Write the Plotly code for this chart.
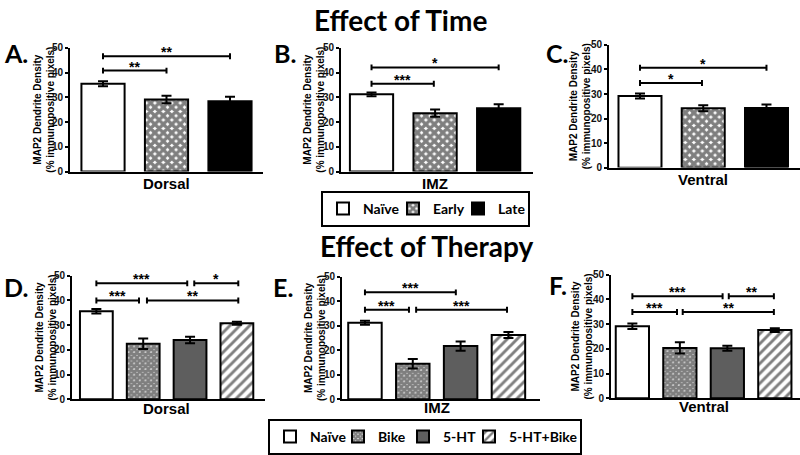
import plotly.graph_objects as go

W, H = 800, 455

# ---------------- data ----------------
time_groups = ["Naïve", "Early", "Late"]
therapy_groups = ["Naïve", "Bike", "5-HT", "5-HT+Bike"]
region_labels = ["Dorsal", "IMZ", "Ventral"]
y_ticks = [0, 10, 20, 30, 40, 50]

time_dorsal_mean = [35.5, 29.1, 28.4]
time_dorsal_sem = [1.0, 1.5, 1.8]
time_imz_mean = [31.2, 23.6, 25.6]
time_imz_sem = [0.8, 1.5, 1.6]
time_ventral_mean = [29.2, 24.2, 24.3]
time_ventral_sem = [1.0, 1.2, 1.4]

therapy_dorsal_mean = [35.6, 22.5, 24.0, 30.8]
therapy_dorsal_sem = [0.9, 2.1, 1.3, 0.6]
therapy_imz_mean = [31.2, 14.5, 21.7, 26.2]
therapy_imz_sem = [0.8, 1.9, 1.9, 1.2]
therapy_ventral_mean = [29.2, 20.4, 20.3, 27.6]
therapy_ventral_sem = [1.1, 2.3, 1.0, 0.8]

# significance brackets: (from group, to group, height, label)
sig_a = [(0, 1, 40.8, "**"), (0, 2, 46.6, "**")]
sig_b = [(0, 0.98, 35.5, "***"), (0, 2, 42.1, "*")]
sig_c = [(0, 0.98, 34.5, "*"), (0, 2, 40.7, "*")]
sig_d = [(0, 0.91, 40.0, "***"), (1.08, 3.03, 40.0, "**"),
         (0, 1.94, 46.9, "***"), (2.09, 3.03, 46.9, "*")]
sig_e = [(0, 0.92, 36.5, "***"), (1.07, 2.97, 36.5, "***"),
         (0, 1.9, 43.6, "***")]
sig_f = [(0, 0.94, 34.9, "***"), (1.06, 2.98, 34.9, "**"),
         (0, 1.9, 41.3, "***"), (2.03, 2.98, 41.3, "**")]

# legend entry widths (px) to space the legend items like the original
time_legend_w = [25, 20, 25]
therapy_legend_w = [23, 20, 21, 66]

# ---------------- styles ----------------
ARIAL = "Liberation Sans, Arial, sans-serif"
CAL = "Lato, Open Sans, sans-serif"

time_styles = [
    dict(color="white"),
    dict(color="white", pattern=dict(shape="x", fgcolor="black", bgcolor="white", size=6, solidity=0.8)),
    dict(color="black"),
]
therapy_styles = [
    dict(color="white"),
    dict(color="white", pattern=dict(shape="x", fgcolor="black", bgcolor="white", size=4, solidity=0.9)),
    dict(color="#5e5e5e"),
    dict(color="white", pattern=dict(shape="/", fgcolor="black", bgcolor="white", size=7, solidity=0.42)),
]

panels = [
    dict(letter="A.", means=time_dorsal_mean, sems=time_dorsal_sem, groups=time_groups, styles=time_styles,
         region=region_labels[0], sig=sig_a, xpx=(70, 263), xr=(-0.52, 2.52), ypx=(170, 43),
         tx=44, lxy=(2, 31), lab_y=182, legend="legend", lw=time_legend_w, bw=0.68),
    dict(letter="B.", means=time_imz_mean, sems=time_imz_sem, groups=time_groups, styles=time_styles,
         region=region_labels[1], sig=sig_b, xpx=(341, 533), xr=(-0.48, 2.54), ypx=(170, 43),
         tx=314, lxy=(272, 31), lab_y=182, legend=None, lw=None, bw=0.68),
    dict(letter="C.", means=time_ventral_mean, sems=time_ventral_sem, groups=time_groups, styles=time_styles,
         region=region_labels[2], sig=sig_c, xpx=(609, 800), xr=(-0.49, 2.53), ypx=(166, 40),
         tx=580, lxy=(544, 31), lab_y=178, legend=None, lw=None, bw=0.68),
    dict(letter="D.", means=therapy_dorsal_mean, sems=therapy_dorsal_sem, groups=therapy_groups, styles=therapy_styles,
         region=region_labels[0], sig=sig_d, xpx=(72, 265), xr=(-0.52, 3.6), ypx=(404, 277),
         tx=46, lxy=(2, 271), lab_y=413, legend="legend2", lw=therapy_legend_w, bw=0.70),
    dict(letter="E.", means=therapy_imz_mean, sems=therapy_imz_sem, groups=therapy_groups, styles=therapy_styles,
         region=region_labels[1], sig=sig_e, xpx=(342, 540), xr=(-0.48, 3.66), ypx=(404, 278),
         tx=315, lxy=(271, 271), lab_y=412, legend=None, lw=None, bw=0.70),
    dict(letter="F.", means=therapy_ventral_mean, sems=therapy_ventral_sem, groups=therapy_groups, styles=therapy_styles,
         region=region_labels[2], sig=sig_f, xpx=(611, 800), xr=(-0.45, 3.53), ypx=(403, 276),
         tx=582, lxy=(547, 269), lab_y=411, legend=None, lw=None, bw=0.70),
]

fig = go.Figure()
layout = dict(
    width=W, height=H, autosize=False,
    margin=dict(l=0, r=0, t=0, b=0),
    paper_bgcolor="white", plot_bgcolor="white",
    barmode="overlay", showlegend=True,
    font=dict(family=ARIAL, color="black"),
)
annotations = []
shapes = []

for i, p in enumerate(panels, start=1):
    sfx = "" if i == 1 else str(i)
    xa, ya = "x" + sfx, "y" + sfx
    for j, (g, m, s, st) in enumerate(zip(p["groups"], p["means"], p["sems"], p["styles"])):
        marker = dict(color=st["color"], line=dict(color="black", width=2))
        if "pattern" in st:
            marker["pattern"] = st["pattern"]
        tr = dict(
            x=[j], y=[m], width=p["bw"], name=g, marker=marker,
            error_y=dict(type="data", array=[s], color="black", thickness=2, width=5),
            xaxis=xa, yaxis=ya, hoverinfo="skip",
            showlegend=p["legend"] is not None,
        )
        if p["legend"] is not None:
            tr["legend"] = p["legend"]
            tr["legendwidth"] = p["lw"][j]
        fig.add_trace(go.Bar(**tr))

    x0p, x1p = p["xpx"]
    y0p, y1p = p["ypx"]
    layout["xaxis" + sfx] = dict(
        domain=[x0p / W, x1p / W], range=list(p["xr"]), anchor=ya,
        showline=True, linecolor="black", linewidth=2, ticks="",
        showticklabels=False, showgrid=False, zeroline=False, fixedrange=True,
    )
    layout["yaxis" + sfx] = dict(
        domain=[1 - y0p / H, 1 - y1p / H], range=[0, 50], anchor=xa,
        showline=True, linecolor="black", linewidth=2, ticks="outside",
        ticklen=3, tickwidth=2, tickcolor="black", tickvals=y_ticks,
        tickfont=dict(family=ARIAL, size=10, color="#111", weight="bold"),
        showgrid=False, zeroline=False, fixedrange=True,
    )
    # y axis title
    annotations.append(dict(
        text="MAP2 Dendrite Density<br>(% immunopositive pixels)",
        x=p["tx"] / W, y=1 - (y0p + y1p) / 2 / H, xref="paper", yref="paper",
        textangle=-90, showarrow=False, xanchor="center", yanchor="middle",
        font=dict(family=ARIAL, size=10, color="black", weight="bold"),
    ))
    # x category label
    annotations.append(dict(
        text=p["region"], x=(len(p["groups"]) - 1) / 2, xref=xa,
        y=1 - p["lab_y"] / H, yref="paper", showarrow=False,
        xanchor="center", yanchor="middle",
        font=dict(family=ARIAL, size=15, color="black", weight="bold"),
    ))
    # panel letter
    annotations.append(dict(
        text=p["letter"], x=p["lxy"][0] / W, y=1 - p["lxy"][1] / H,
        xref="paper", yref="paper", showarrow=False, xanchor="left", yanchor="top",
        font=dict(family=CAL, size=25, color="black", weight="bold"),
    ))
    # significance brackets
    cap = 1.2
    for (a, b, h, lab) in p["sig"]:
        path = (f"M {a},{h - cap} L {a},{h + cap} M {a},{h} L {b},{h} "
                f"M {b},{h - cap} L {b},{h + cap}")
        shapes.append(dict(type="path", path=path, xref=xa, yref=ya,
                           line=dict(color="black", width=2)))
        annotations.append(dict(
            text=lab, x=(a + b) / 2, y=h, xref=xa, yref=ya, showarrow=False,
            xanchor="center", yanchor="bottom", yshift=-6,
            font=dict(family=ARIAL, size=14, color="black", weight="bold"),
        ))

# titles
annotations.append(dict(text="Effect of Time", x=400 / W, y=1 - 14 / H, xref="paper", yref="paper",
                        showarrow=False, xanchor="center", yanchor="middle",
                        font=dict(family=CAL, size=28, color="black", weight="bold")))
annotations.append(dict(text="Effect of Therapy", x=427 / W, y=1 - 247 / H, xref="paper", yref="paper",
                        showarrow=False, xanchor="center", yanchor="middle",
                        font=dict(family=CAL, size=28, color="black", weight="bold")))

leg_common = dict(orientation="h", xanchor="left", yanchor="top", bgcolor="white",
                  bordercolor="black", borderwidth=2, itemclick=False, itemdoubleclick=False,
                  font=dict(family=CAL, size=14, color="black", weight="bold"),
                  itemwidth=30, tracegroupgap=0)
layout["legend"] = dict(x=321 / W, y=1 - 190 / H, **leg_common)
layout["legend2"] = dict(x=268 / W, y=1 - 424 / H, **leg_common)
layout["annotations"] = annotations
layout["shapes"] = shapes

fig.update_layout(**layout)
fig.write_html(
    "out.html",
    config={"displayModeBar": False, "staticPlot": True},
    post_script="document.body.style.margin='0px';document.body.style.padding='0px';",
)
